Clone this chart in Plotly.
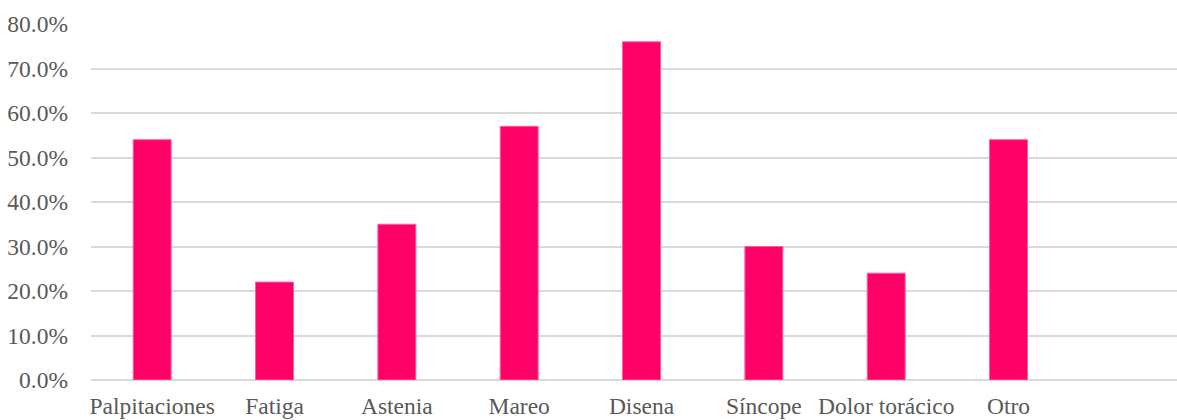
import plotly.graph_objects as go

categories = ["Palpitaciones", "Fatiga", "Astenia", "Mareo", "Disena",
              "Síncope", "Dolor torácico", "Otro"]
values = [0.54, 0.22, 0.35, 0.57, 0.76, 0.30, 0.24, 0.54]
y_ticks = [0.0, 0.1, 0.2, 0.3, 0.4, 0.5, 0.6, 0.7, 0.8]

text_color = "#595959"
grid_color = "#d9d9d9"
font_family = "Liberation Serif, Times New Roman, serif"
font_size = 23.5

fig = go.Figure(
    go.Bar(
        x=categories,
        y=values,
        width=0.31,
        marker=dict(color="#ff0066", line=dict(color="#ff5c9d", width=1)),
    )
)

fig.update_layout(
    width=1177,
    height=420,
    margin=dict(l=91, r=0, t=24, b=40),
    paper_bgcolor="white",
    plot_bgcolor="white",
    showlegend=False,
    font=dict(family=font_family, size=font_size, color=text_color),
)

fig.update_xaxes(
    type="category",
    range=[-0.5, 8.377],
    showgrid=False,
    showline=False,
    ticks="",
    ticklabelstandoff=9,
    tickfont=dict(family=font_family, size=font_size, color=text_color),
)

fig.update_yaxes(
    range=[0, 0.8],
    tickvals=y_ticks,
    tickformat=".1%",
    showgrid=True,
    gridcolor=grid_color,
    gridwidth=2,
    zeroline=True,
    zerolinecolor=grid_color,
    zerolinewidth=2,
    showline=False,
    ticks="",
    ticklabelstandoff=22,
    tickfont=dict(family=font_family, size=font_size, color=text_color),
)

fig.write_html("out.html")
